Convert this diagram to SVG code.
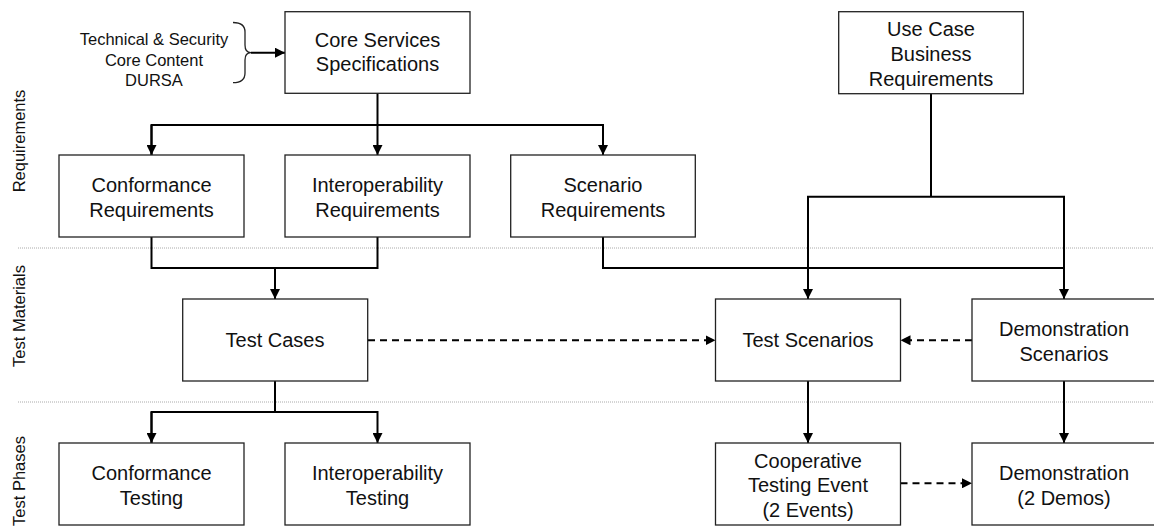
<svg xmlns="http://www.w3.org/2000/svg" width="1154" height="527" viewBox="0 0 1154 527">
<style>
.box{fill:#fff;stroke:#222;stroke-width:1.3}
.t{font-family:"Liberation Sans",Arial,sans-serif;font-size:20px;fill:#111;text-anchor:middle}
.s{font-family:"Liberation Sans",Arial,sans-serif;font-size:16.5px;fill:#111;text-anchor:middle}
.c{fill:none;stroke:#000;stroke-width:2}
.d{fill:none;stroke:#000;stroke-width:2;stroke-dasharray:7 5}
.sep{stroke:#aaa;stroke-width:1;stroke-dasharray:1 1}
</style>
<defs>
<marker id="ah" markerUnits="userSpaceOnUse" markerWidth="11" markerHeight="10" refX="10" refY="5" orient="auto">
<path d="M0,0 L10,5 L0,10 Z" fill="#000"/>
</marker>
</defs>
<rect width="1154" height="527" fill="#fff"/>
<g id="separators">
<line class="sep" x1="18" y1="248" x2="1154" y2="248"/>
<line class="sep" x1="18" y1="402" x2="1154" y2="402"/>
</g>
<g id="lanes">
<text class="s" transform="translate(25,141) rotate(-90)">Requirements</text>
<text class="s" transform="translate(25,316) rotate(-90)">Test Materials</text>
<text class="s" transform="translate(25,481) rotate(-90)">Test Phases</text>
</g>
<g id="inputs">
<text class="s" x="154" y="45" style="font-size:16.5px">Technical &amp; Security</text>
<text class="s" x="154" y="66">Core Content</text>
<text class="s" x="154" y="86">DURSA</text>
<path d="M233,22.5 Q245,22.5 245,32 L245,45 Q245,52.7 251,52.7 Q245,52.7 245,60 L245,73 Q245,82.7 233,82.7" fill="none" stroke="#222" stroke-width="1.3"/>
</g>
<g id="connectors">
<line class="c" x1="251" y1="52.7" x2="285" y2="52.7" marker-end="url(#ah)"/>
<polyline class="c" points="377.5,93 377.5,155" marker-end="url(#ah)"/>
<polyline class="c" points="151.5,155 151.5,125 603,125 603,155" marker-end="url(#ah)"/>
<line class="c" x1="151.5" y1="125" x2="151.5" y2="155" marker-end="url(#ah)"/>
<polyline class="c" points="151.5,237 151.5,268 377.5,268 377.5,237"/>
<line class="c" x1="275" y1="268" x2="275" y2="299" marker-end="url(#ah)"/>
<polyline class="c" points="603,237 603,268 1064,268"/>
<line class="c" x1="931" y1="93.5" x2="931" y2="196.7"/>
<polyline class="c" points="808,299 808,196.7 1064,196.7 1064,299" marker-end="url(#ah)"/>
<line class="c" x1="808" y1="196.7" x2="808" y2="299" marker-end="url(#ah)"/>
<line class="c" x1="275" y1="381" x2="275" y2="412"/>
<polyline class="c" points="151.5,443 151.5,412 377.5,412 377.5,443" marker-end="url(#ah)"/>
<line class="c" x1="151.5" y1="412" x2="151.5" y2="443" marker-end="url(#ah)"/>
<line class="c" x1="808" y1="381" x2="808" y2="443" marker-end="url(#ah)"/>
<line class="c" x1="1064" y1="381" x2="1064" y2="443" marker-end="url(#ah)"/>
<line class="d" x1="368" y1="340.3" x2="715.5" y2="340.3" marker-end="url(#ah)"/>
<line class="d" x1="972" y1="340.3" x2="900.5" y2="340.3" marker-end="url(#ah)"/>
<line class="d" x1="900.5" y1="483.3" x2="972" y2="483.3" marker-end="url(#ah)"/>
</g>
<g id="core">
<rect class="box" x="285" y="11.7" width="185" height="81.6"/>
<text class="t" x="377.5" y="47">Core Services</text>
<text class="t" x="377.5" y="71">Specifications</text>
</g>
<g id="usecase">
<rect class="box" x="838.7" y="11.7" width="184.6" height="82"/>
<text class="t" x="931" y="36">Use Case</text>
<text class="t" x="931" y="61">Business</text>
<text class="t" x="931" y="86">Requirements</text>
</g>
<g id="confreq">
<rect class="box" x="59" y="155" width="185" height="82"/>
<text class="t" x="151.5" y="192">Conformance</text>
<text class="t" x="151.5" y="216.5">Requirements</text>
</g>
<g id="interreq">
<rect class="box" x="285" y="155" width="185" height="82"/>
<text class="t" x="377.5" y="192">Interoperability</text>
<text class="t" x="377.5" y="216.5">Requirements</text>
</g>
<g id="scenreq">
<rect class="box" x="510.7" y="155" width="184.6" height="82"/>
<text class="t" x="603" y="192">Scenario</text>
<text class="t" x="603" y="216.5">Requirements</text>
</g>
<g id="testcases">
<rect class="box" x="182.7" y="299" width="185" height="82"/>
<text class="t" x="275" y="347">Test Cases</text>
</g>
<g id="testscen">
<rect class="box" x="715.5" y="299" width="185" height="82"/>
<text class="t" x="808" y="347">Test Scenarios</text>
</g>
<g id="demoscen">
<rect class="box" x="972" y="299" width="184" height="82"/>
<text class="t" x="1064" y="336">Demonstration</text>
<text class="t" x="1064" y="360.5">Scenarios</text>
</g>
<g id="conftest">
<rect class="box" x="59" y="443" width="185" height="82"/>
<text class="t" x="151.5" y="480">Conformance</text>
<text class="t" x="151.5" y="504.5">Testing</text>
</g>
<g id="intertest">
<rect class="box" x="285" y="443" width="185" height="82"/>
<text class="t" x="377.5" y="480">Interoperability</text>
<text class="t" x="377.5" y="504.5">Testing</text>
</g>
<g id="coop">
<rect class="box" x="715.5" y="443" width="185" height="82"/>
<text class="t" x="808" y="468">Cooperative</text>
<text class="t" x="808" y="492">Testing Event</text>
<text class="t" x="808" y="517">(2 Events)</text>
</g>
<g id="demo">
<rect class="box" x="972" y="443" width="184" height="82"/>
<text class="t" x="1064" y="480">Demonstration</text>
<text class="t" x="1064" y="504.5">(2 Demos)</text>
</g>
</svg>
